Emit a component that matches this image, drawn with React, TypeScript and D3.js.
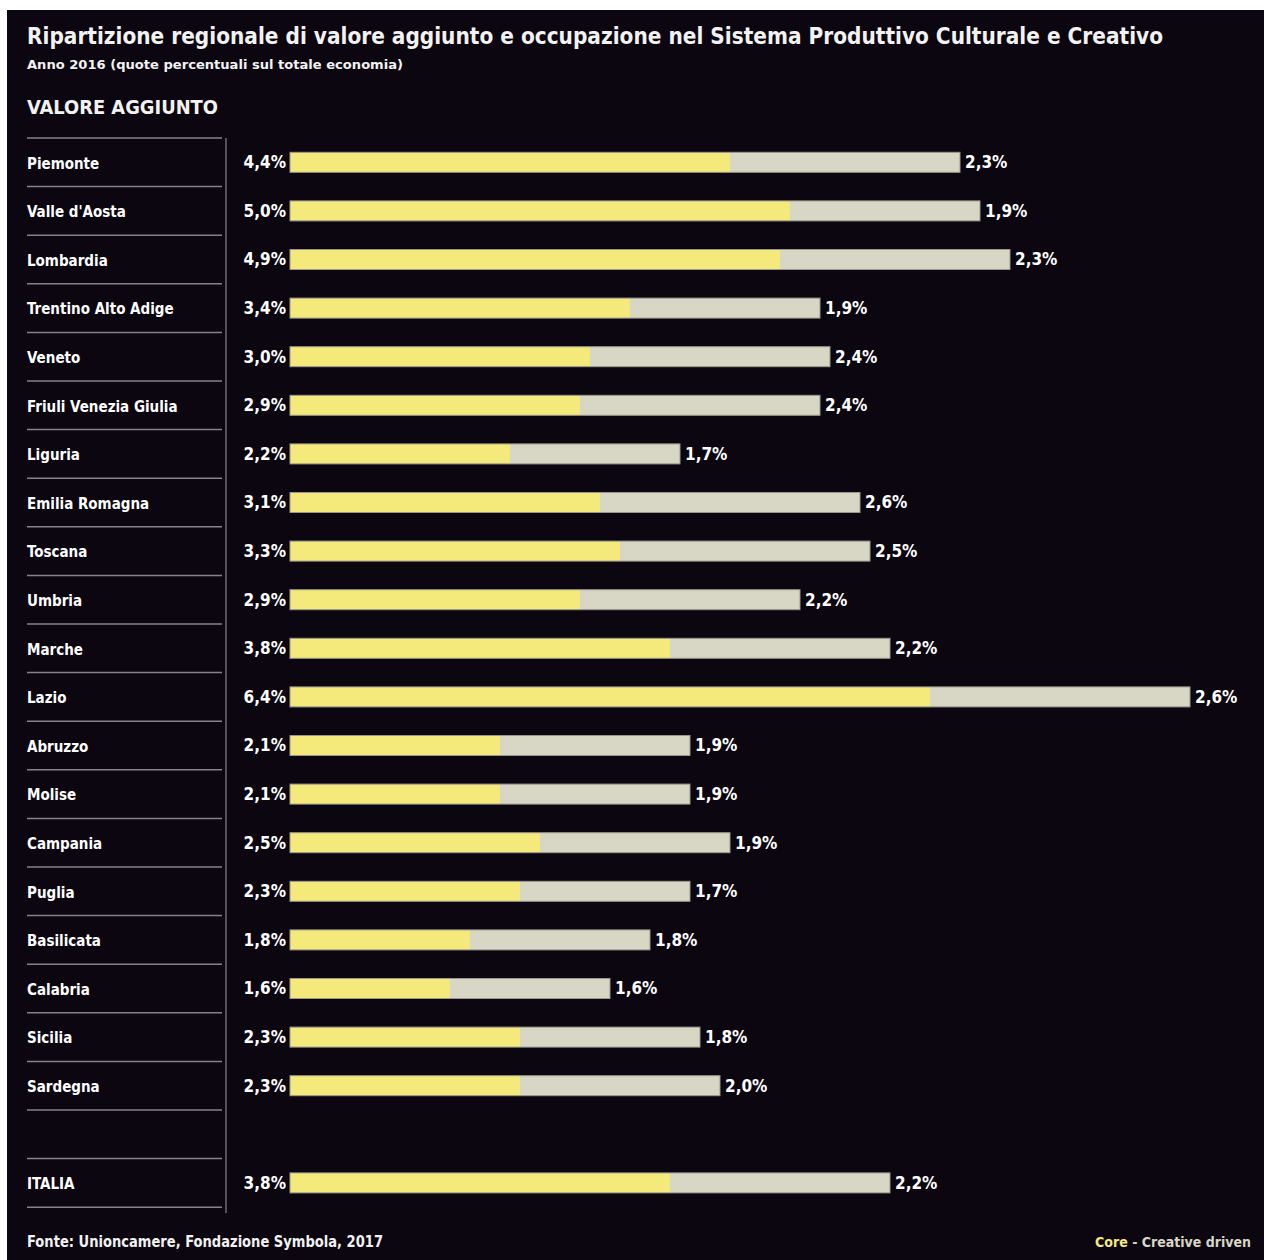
import React from "react";
import * as d3 from "d3";

const regions = [
  "Piemonte", "Valle d'Aosta", "Lombardia", "Trentino Alto Adige", "Veneto",
  "Friuli Venezia Giulia", "Liguria", "Emilia Romagna", "Toscana", "Umbria",
  "Marche", "Lazio", "Abruzzo", "Molise", "Campania", "Puglia", "Basilicata",
  "Calabria", "Sicilia", "Sardegna", "", "ITALIA",
];
const core: (number | null)[] = [
  4.4, 5.0, 4.9, 3.4, 3.0, 2.9, 2.2, 3.1, 3.3, 2.9, 3.8, 6.4, 2.1, 2.1, 2.5, 2.3, 1.8, 1.6, 2.3, 2.3, null, 3.8,
];
const creativeDriven: (number | null)[] = [
  2.3, 1.9, 2.3, 1.9, 2.4, 2.4, 1.7, 2.6, 2.5, 2.2, 2.2, 2.6, 1.9, 1.9, 1.9, 1.7, 1.8, 1.6, 1.8, 2.0, null, 2.2,
];

const W = 1264;
const H = 1260;
const FONT = "'DejaVu Sans Condensed', 'Liberation Sans Narrow', 'DejaVu Sans', sans-serif";
const BG = "#0c0611";
const YELLOW = "#f4ea7c";
const GREY = "#d8d7c6";

export default function App() {
  const x = d3.scaleLinear().domain([0, 9.5]).range([290, 1240]);
  const rowTop = 138;
  const rowStep = 48.6;
  const y = d3
    .scaleBand<number>()
    .domain(d3.range(regions.length))
    .range([rowTop, rowTop + rowStep * regions.length])
    .paddingInner(0)
    .paddingOuter(0);
  const barH = 20;
  const fmt = (v: number) => v.toFixed(1).replace(".", ",") + "%";

  return (
    <svg
      width={W}
      height={H}
      style={{ position: "absolute", left: 0, top: 0, fontFamily: FONT }}
    >
      <rect x={0} y={0} width={W} height={H} fill="#ffffff" />
      <rect x={7} y={10} width={W - 7} height={H - 10} fill={BG} />

      <text x={27} y={44} fill="#f2f2f2" fontSize={23} fontWeight={700} textLength={1136} lengthAdjust="spacingAndGlyphs">
        Ripartizione regionale di valore aggiunto e occupazione nel Sistema Produttivo Culturale e Creativo
      </text>
      <text x={27} y={69} fill="#f2f2f2" fontSize={13} fontWeight={700} textLength={376} lengthAdjust="spacingAndGlyphs">
        Anno 2016 (quote percentuali sul totale economia)
      </text>
      <text x={27} y={114} fill="#f2f2f2" fontSize={20} fontWeight={700} textLength={191} lengthAdjust="spacingAndGlyphs">
        VALORE AGGIUNTO
      </text>

      {/* separators */}
      {d3.range(regions.length + 1).map((i) => (
        <line
          key={"h" + i}
          x1={27}
          x2={222}
          y1={rowTop + rowStep * i}
          y2={rowTop + rowStep * i}
          stroke="#86828c"
          strokeWidth={1.5}
        />
      ))}
      <line x1={226} x2={226} y1={rowTop} y2={1213} stroke="#86828c" strokeWidth={1.2} />

      {regions.map((name, i) => {
        const cy = (y(i) as number) + y.bandwidth() / 2;
        const c = core[i];
        const cd = creativeDriven[i];
        return (
          <g key={i}>
            {name && (
              <text x={27} y={cy + 1} dy="0.35em" fill="#ffffff" fontSize={15} fontWeight={700}>
                {name}
              </text>
            )}
            {c != null && cd != null && (
              <>
                <rect
                  x={x(0)}
                  y={cy - barH / 2}
                  width={x(c) - x(0)}
                  height={barH}
                  fill={YELLOW}
                />
                <rect
                  x={x(c)}
                  y={cy - barH / 2}
                  width={x(c + cd) - x(c)}
                  height={barH}
                  fill={GREY}
                />
                <rect
                  x={x(0)}
                  y={cy - barH / 2}
                  width={x(c + cd) - x(0)}
                  height={barH}
                  fill="none"
                  stroke="#9a978a"
                  strokeWidth={1}
                />
                <text x={286} y={cy} dy="0.35em" textAnchor="end" fill="#ffffff" fontSize={17} fontWeight={700}>
                  {fmt(c)}
                </text>
                <text x={x(c + cd) + 5} y={cy} dy="0.35em" fill="#ffffff" fontSize={17} fontWeight={700}>
                  {fmt(cd)}
                </text>
              </>
            )}
          </g>
        );
      })}

      <text x={27} y={1247} fill="#f2f2f2" fontSize={15} fontWeight={700} textLength={356} lengthAdjust="spacingAndGlyphs">
        Fonte: Unioncamere, Fondazione Symbola, 2017
      </text>
      <text x={1251} y={1247} textAnchor="end" fontSize={14} fontWeight={700}>
        <tspan fill={YELLOW}>Core</tspan>
        <tspan fill="#d8d7c6"> - Creative driven</tspan>
      </text>
    </svg>
  );
}
